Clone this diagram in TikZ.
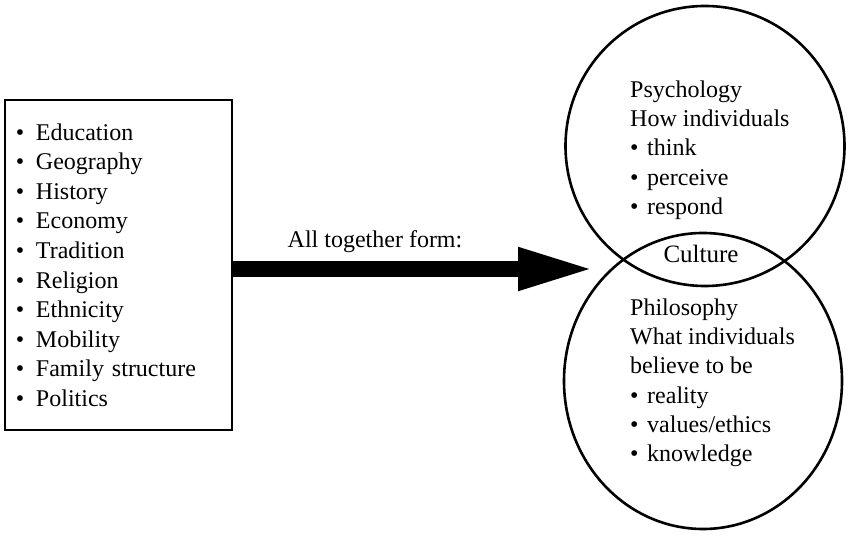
\documentclass[tikz,border=0pt]{standalone}
\usepackage{fontspec}
\setmainfont{Liberation Serif}
\usepackage{tikz}
\usetikzlibrary{positioning, shapes.geometric, arrows.meta}

\newcommand{\itm}[2][20pt]{\makebox[#1][l]{\textbullet}#2}

\begin{document}
\begin{tikzpicture}[
  x=1pt, y=1pt,
  listbox/.style={
    rectangle, draw, line width=2.6pt,
    minimum width=227pt, minimum height=330pt,
    text width=205pt, inner xsep=11pt, align=left,
    font=\fontsize{24}{29.6}\selectfont
  },
  ring/.style={ellipse, draw, line width=2.6pt, inner sep=0pt},
  ringtext/.style={
    anchor=north west, inner sep=0pt, align=left,
    font=\fontsize{24}{29.3}\selectfont
  },
  bigarrow/.style={line width=16pt, -{Triangle[length=77pt, width=39pt]}}
]
  \useasboundingbox (0,0) rectangle (856,540);

  % List of factors
  \node[listbox] (factors) at (118.5,275) {\itm{Education}\\ \itm{Geography}\\ \itm{History}\\ \itm{Economy}\\ \itm{Tradition}\\ \itm{Religion}\\ \itm{Ethnicity}\\ \itm{Mobility}\\ \itm{Family structure}\\ \itm{Politics}};

  % Overlapping circles
  \node[ring, minimum width=279pt, minimum height=280pt] (psy) at (705,394) {};
  \node[ring, minimum width=278pt, minimum height=296pt] (phil) at (703,159) {};

  % Circle texts
  \node[ringtext] (psytext) at (630,459.5) {Psychology\\ How individuals\\ \itm[17pt]{think}\\ \itm[17pt]{perceive}\\ \itm[17pt]{respond}};
  \node[ringtext] (philtext) at (630,241.5) {Philosophy\\ What individuals\\ believe to be\\ \itm[17pt]{reality}\\ \itm[17pt]{values/ethics}\\ \itm[17pt]{knowledge}};
  \node[anchor=base, font=\fontsize{25}{29}\selectfont] (culture) at (701,277) {Culture};

  % Arrow
  \coordinate (tip) at (595,271);
  \draw[bigarrow] (tip -| factors.east) -- (tip);
  \node[anchor=base, font=\fontsize{24}{29}\selectfont] (form) at (375,292) {All together form:};
\end{tikzpicture}
\end{document}
